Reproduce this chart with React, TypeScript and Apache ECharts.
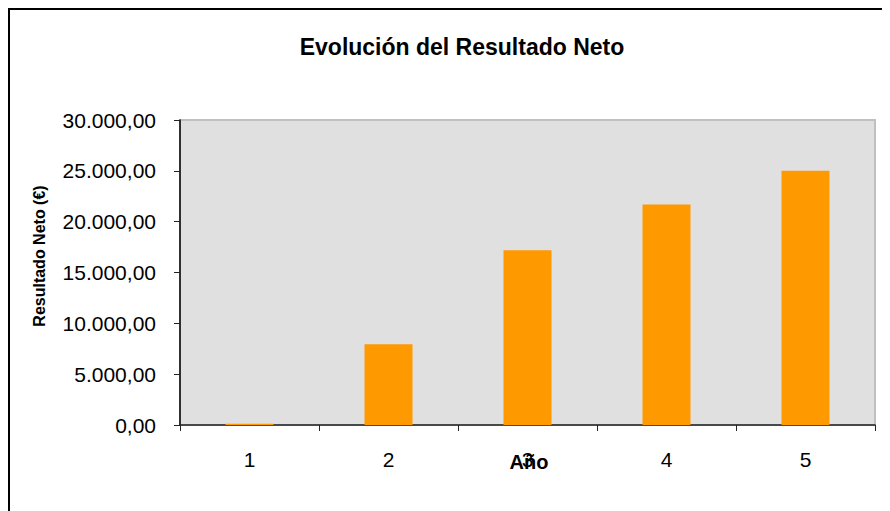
import React, { useEffect, useRef } from "react";
import * as echarts from "echarts";

const categories = ["1", "2", "3", "4", "5"];
const netResult = [120, 7950, 17200, 21700, 25000];
const yMin = 0;
const yMax = 30000;
const yStep = 5000;

function fmtEs(v: number): string {
  const fixed = v.toFixed(2);
  const [intPart, dec] = fixed.split(".");
  const withDots = intPart.replace(/\B(?=(\d{3})+(?!\d))/g, ".");
  return withDots + "," + dec;
}

export default function App() {
  const ref = useRef<HTMLDivElement>(null);
  useEffect(() => {
    document.body.style.overflow = "hidden";
    const chart = echarts.init(ref.current!, null, { renderer: "svg" });
    chart.setOption({
      animation: false,
      textStyle: { fontFamily: "Liberation Sans, Arial, sans-serif" },
      graphic: [
        { type: "line", shape: { x1: 1, y1: 0, x2: 1, y2: 503 }, style: { stroke: "#000", lineWidth: 2 } },
        { type: "line", shape: { x1: 0, y1: 1, x2: 882, y2: 1 }, style: { stroke: "#000", lineWidth: 2 } },
        {
          type: "text",
          x: 454,
          y: 39,
          style: {
            text: "Evolución del Resultado Neto",
            font: "bold 23px 'Liberation Sans', Arial, sans-serif",
            fill: "#000",
            textAlign: "center",
            textVerticalAlign: "middle",
          },
        },
        {
          type: "text",
          x: 31,
          y: 248,
          rotation: Math.PI / 2,
          style: {
            text: "Resultado Neto (€)",
            font: "bold 16px 'Liberation Sans', Arial, sans-serif",
            fill: "#000",
            textAlign: "center",
            textVerticalAlign: "middle",
          },
        },
        {
          type: "text",
          x: 521,
          y: 454,
          style: {
            text: "Año",
            font: "bold 20px 'Liberation Sans', Arial, sans-serif",
            fill: "#000",
            textAlign: "center",
            textVerticalAlign: "middle",
          },
        },
      ],
      grid: {
        left: 172,
        top: 112,
        right: 15,
        bottom: 86,
        show: true,
        backgroundColor: "#E0E0E0",
        borderColor: "#C0C0C0",
        borderWidth: 2,
      },
      xAxis: {
        type: "category",
        data: categories,
        axisLine: { show: true, lineStyle: { color: "#222", width: 1.5 } },
        axisTick: { show: true, length: 6, lineStyle: { color: "#222" } },
        axisLabel: { fontSize: 21, color: "#000", margin: 24 },
      },
      yAxis: {
        type: "value",
        min: yMin,
        max: yMax,
        interval: yStep,
        axisLine: { show: true, lineStyle: { color: "#000", width: 1.5 } },
        axisTick: { show: true, length: 6, lineStyle: { color: "#222" } },
        axisLabel: { fontSize: 21, color: "#000", margin: 24, formatter: (v: number) => fmtEs(v) },
        splitLine: { show: false },
      },
      series: [
        {
          type: "bar",
          data: netResult,
          barWidth: 48,
          itemStyle: { color: "#FF9900" },
        },
      ],
    });
    return () => chart.dispose();
  }, []);
  return <div ref={ref} style={{ width: 882, height: 503 }} />;
}
